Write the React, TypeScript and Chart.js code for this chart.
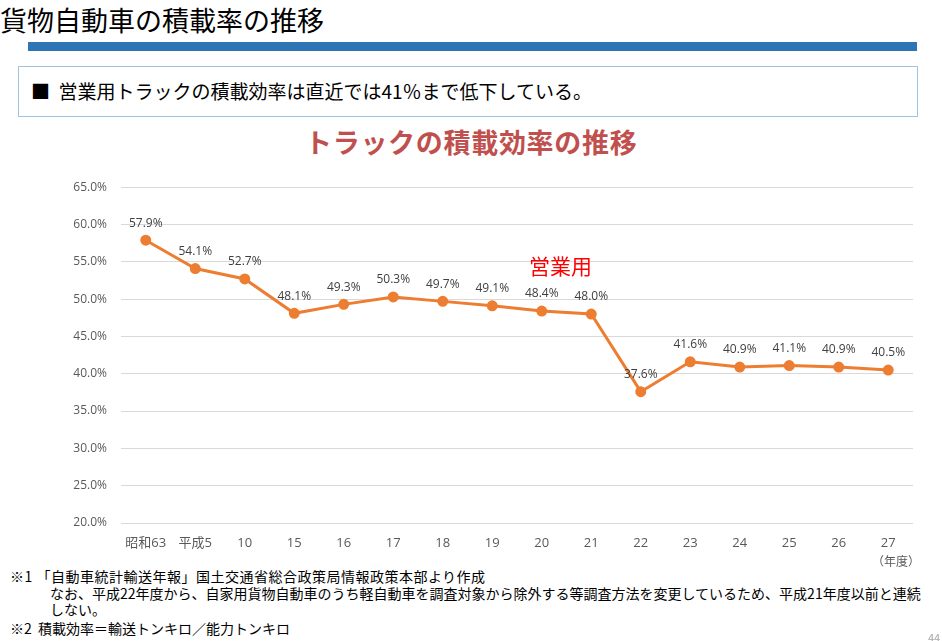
import React, { useEffect, useRef } from "react";
import { Chart, registerables } from "chart.js";

Chart.register(...registerables);

const categories = ["昭和63", "平成5", "10", "15", "16", "17", "18", "19", "20", "21", "22", "23", "24", "25", "26", "27"];
const values = [57.9, 54.1, 52.7, 48.1, 49.3, 50.3, 49.7, 49.1, 48.4, 48.0, 37.6, 41.6, 40.9, 41.1, 40.9, 40.5];
const yMin = 20;
const yMax = 65;
const yStep = 5;

const CJK = '"Noto Sans CJK JP", "Noto Sans", sans-serif';
const NUM = '"Open Sans", "Noto Sans CJK JP", sans-serif';

const dataLabelPlugin = {
  id: "dataLabels",
  afterDatasetsDraw(chart: any) {
    const ctx = chart.ctx;
    const meta = chart.getDatasetMeta(0);
    ctx.save();
    ctx.font = `12px ${NUM}`;
    ctx.fillStyle = "#404040";
    ctx.textAlign = "center";
    ctx.textBaseline = "middle";
    meta.data.forEach((pt: any, i: number) => {
      const v = chart.data.datasets[0].data[i] as number;
      ctx.fillText(v.toFixed(1) + "%", pt.x, pt.y - 17);
    });
    ctx.restore();
  },
};

function LineChart() {
  const ref = useRef<HTMLCanvasElement | null>(null);
  useEffect(() => {
    if (!ref.current) return;
    const chart = new Chart(ref.current, {
      type: "line",
      data: {
        labels: categories,
        datasets: [
          {
            label: "営業用",
            data: values,
            borderColor: "#ED7D31",
            backgroundColor: "#ED7D31",
            borderWidth: 3,
            pointRadius: 4,
            pointBackgroundColor: "#ED7D31",
            pointBorderColor: "#ED7D31",
            tension: 0,
          },
        ],
      },
      options: {
        animation: false,
        responsive: false,
        maintainAspectRatio: false,
        layout: { padding: { top: 12, right: 5, bottom: 0, left: 0 } },
        plugins: {
          legend: { display: false },
          tooltip: { enabled: false },
          title: { display: false },
        },
        scales: {
          x: {
            offset: true,
            grid: { display: false, drawTicks: false },
            border: { display: false },
            ticks: {
              color: "#595959",
              font: { size: 13, family: NUM },
              padding: 12,
              maxRotation: 0,
              autoSkip: false,
            },
            afterFit: (s: any) => {
              s.height = 37;
            },
          },
          y: {
            min: yMin,
            max: yMax,
            grid: { color: "#D9D9D9", lineWidth: 1, drawTicks: false },
            border: { display: false },
            ticks: {
              stepSize: yStep,
              color: "#595959",
              font: { size: 12, family: NUM },
              padding: 14,
              callback: (v: any) => Number(v).toFixed(1) + "%",
            },
            afterFit: (s: any) => {
              s.width = 61;
            },
          },
        },
      },
      plugins: [dataLabelPlugin],
    });
    return () => chart.destroy();
  }, []);
  return <canvas ref={ref} width={860} height={394} style={{ display: "block" }} />;
}

export default function App() {
  const abs = (s: React.CSSProperties): React.CSSProperties => ({ position: "absolute", whiteSpace: "nowrap", ...s });
  return (
    <div style={{ position: "absolute", left: 0, top: 0, width: 942, height: 641, overflow: "hidden", background: "#fff", fontFamily: CJK, color: "#000" }}>
      <div style={abs({ left: 0, top: 4, fontSize: 27, lineHeight: "32px" })}>貨物自動車の積載率の推移</div>
      <div style={abs({ left: 28, top: 42, width: 889, height: 9, background: "#2E75B6" })} />
      <div style={abs({ left: 18, top: 66, width: 900, height: 51, border: "1px solid #9DC3E6", boxSizing: "border-box" })} />
      <div style={abs({ left: 31, top: 78, fontSize: 19, lineHeight: "25px" })}>■&nbsp;&nbsp;営業用トラックの積載効率は直近では41％まで低下している。</div>
      <div style={abs({ left: 305, top: 125, fontSize: 27, lineHeight: "34px", fontWeight: 700, color: "#C0504D", letterSpacing: "0.7px" })}>トラックの積載効率の推移</div>
      <div style={abs({ left: 60, top: 166, width: 860, height: 394 })}>
        <LineChart />
      </div>
      <div style={abs({ left: 529, top: 252, fontSize: 21, lineHeight: "26px", color: "#FF0000" })}>営業用</div>
      <div style={abs({ left: 872, top: 553, fontSize: 12, lineHeight: "16px", color: "#595959" })}>（年度）</div>
      <div style={abs({ left: 10, top: 567, fontSize: 14, lineHeight: "18px", letterSpacing: "0.5px" })}>※1 「自動車統計輸送年報」国土交通省総合政策局情報政策本部より作成</div>
      <div style={abs({ left: 50, top: 584, fontSize: 14, lineHeight: "18px" })}>なお、平成22年度から、自家用貨物自動車のうち軽自動車を調査対象から除外する等調査方法を変更しているため、平成21年度以前と連続</div>
      <div style={abs({ left: 50, top: 600, fontSize: 14, lineHeight: "18px" })}>しない。</div>
      <div style={abs({ left: 10, top: 619, fontSize: 14, lineHeight: "18px" })}>※2&nbsp;&nbsp;積載効率＝輸送トンキロ／能力トンキロ</div>
      <div style={abs({ left: 928, top: 630, fontSize: 11, lineHeight: "14px", color: "#A6A6A6" })}>44</div>
    </div>
  );
}
